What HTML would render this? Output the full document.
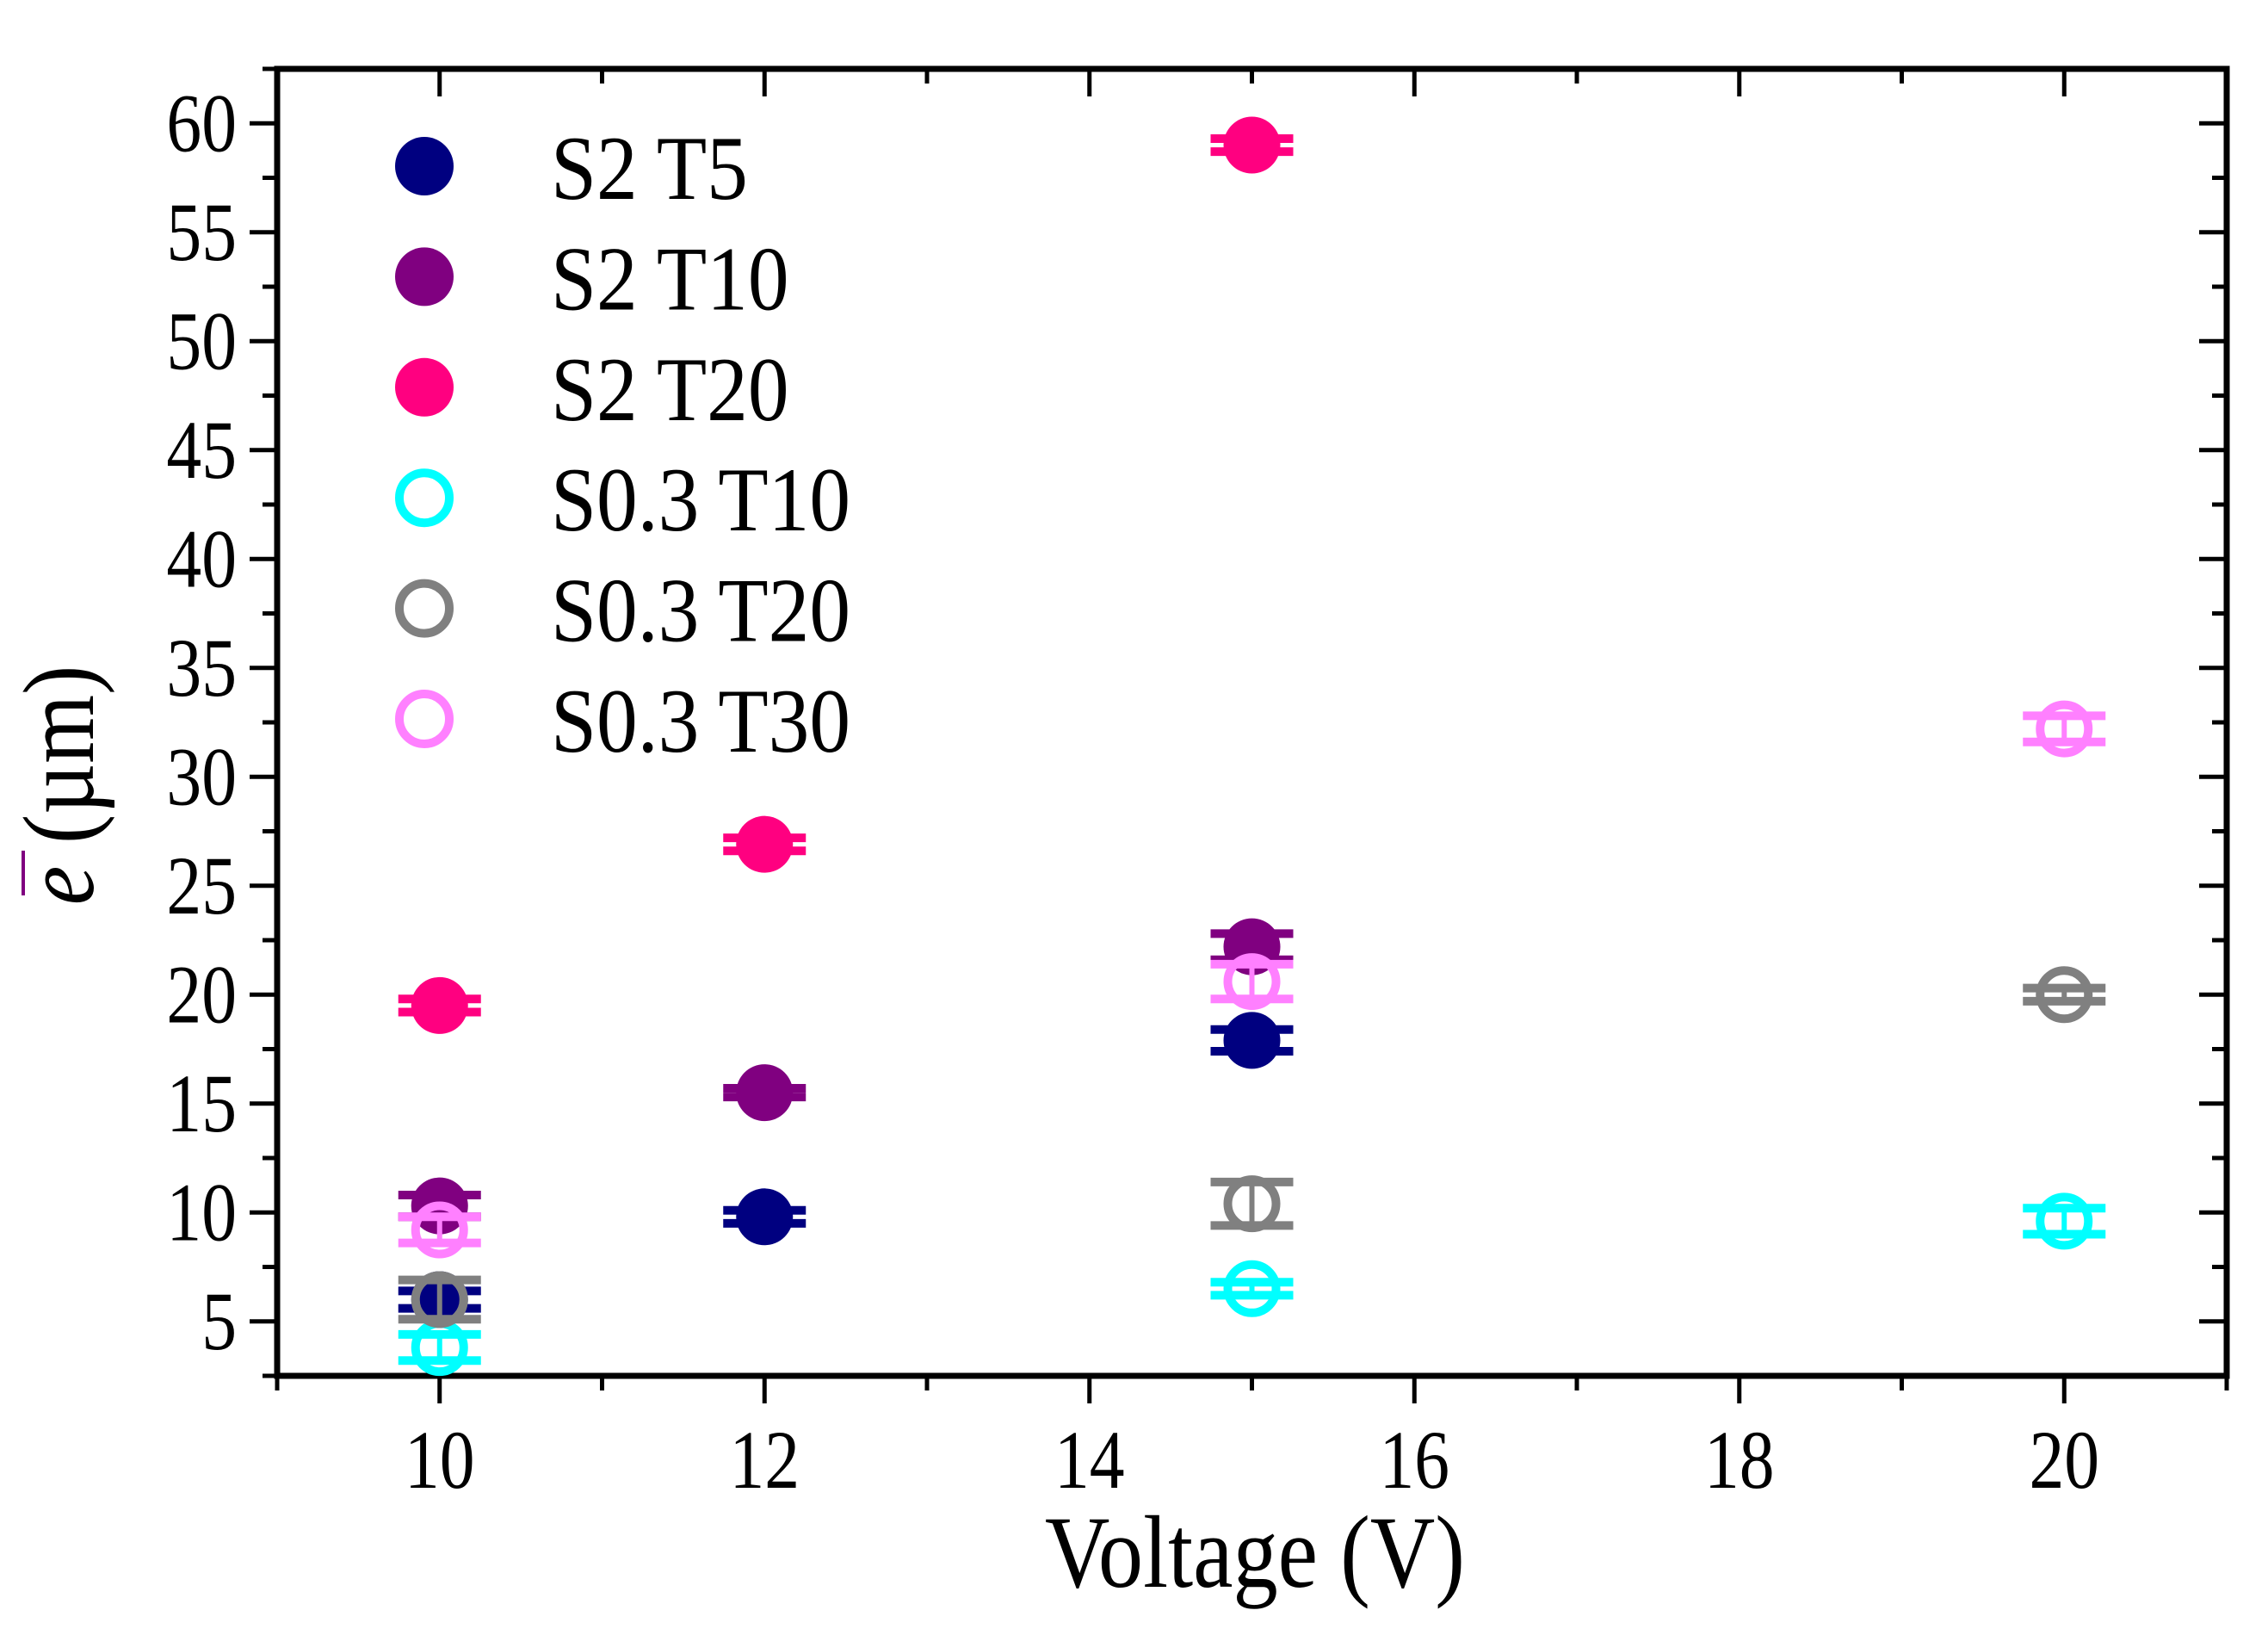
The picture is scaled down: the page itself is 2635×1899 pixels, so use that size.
<!DOCTYPE html>
<html><head><meta charset="utf-8"><style>
html,body{margin:0;padding:0;background:#fff;}
svg{display:block;}
text{font-family:"Liberation Serif",serif;fill:#000;}
</style></head><body>
<svg id="chart" width="2635" height="1899" viewBox="0 0 2635 1899" xmlns="http://www.w3.org/2000/svg">
<g id="axes"></g>
<g id="marks"></g>
<g id="legend"></g>
<text transform="translate(1458,1843) scale(0.87,1)" font-size="120" text-anchor="middle">Voltage (V)</text>
<g transform="translate(108,912) rotate(-90)">
<text transform="scale(0.87,1)" x="0" y="0" font-size="118" text-anchor="middle"><tspan font-style="italic">e</tspan> (µm)</text>
</g>
<line x1="27" y1="988" x2="27" y2="1040" stroke="#800080" stroke-width="4"/>
</svg>
<script>
const xTicks = [10, 12, 14, 16, 18, 20];
const yTicks = [5, 10, 15, 20, 25, 30, 35, 40, 45, 50, 55, 60];
const seriesNames = ["S2 T5", "S2 T10", "S2 T20", "S0.3 T10", "S0.3 T20", "S0.3 T30"];
const seriesColors = ["#000080", "#800080", "#FF0080", "#00FFFF", "#808080", "#FF80FF"];
const seriesFilled = [true, true, true, false, false, false];
const s2t5X = [10, 12, 15];       const s2t5Y = [6.0, 9.8, 17.9];    const s2t5E = [0.4, 0.3, 0.5];
const s2t10X = [10, 12, 15];      const s2t10Y = [10.3, 15.5, 22.2]; const s2t10E = [0.5, 0.2, 0.6];
const s2t20X = [10, 12, 15];      const s2t20Y = [19.5, 26.9, 59.0]; const s2t20E = [0.3, 0.3, 0.3];
const s03t10X = [10, 15, 20];     const s03t10Y = [3.8, 6.5, 9.6];   const s03t10E = [0.6, 0.3, 0.6];
const s03t20X = [10, 15, 20];     const s03t20Y = [6.0, 10.4, 20.0]; const s03t20E = [0.9, 1.0, 0.3];
const s03t30X = [10, 15, 20];     const s03t30Y = [9.2, 20.6, 32.2]; const s03t30E = [0.6, 0.8, 0.6];
const allX = [s2t5X, s2t10X, s2t20X, s03t10X, s03t20X, s03t30X];
const allY = [s2t5Y, s2t10Y, s2t20Y, s03t10Y, s03t20Y, s03t30Y];
const allE = [s2t5E, s2t10E, s2t20E, s03t10E, s03t20E, s03t30E];

const NS = "http://www.w3.org/2000/svg";
const L = 322, R = 2587, T = 80, B = 1598;
const xMin = 9, xMax = 21, yMin = 2.5, yMax = 62.5;
function sx(v){ return L + (v - xMin) / (xMax - xMin) * (R - L); }
function sy(v){ return B - (v - yMin) / (yMax - yMin) * (B - T); }
function mk(tag, attrs, parent){
  const e = document.createElementNS(NS, tag);
  for (const k in attrs) e.setAttribute(k, attrs[k]);
  parent.appendChild(e); return e;
}
const axes = document.getElementById('axes');
const frame = mk('rect', {x:L, y:T, width:R-L, height:B-T, fill:'none', stroke:'#000', 'stroke-width':7}, axes);


for (let v = 9; v <= 21; v += 1) {
  const major = v % 2 === 0;
  const len = major ? 32 : 17;
  const x = sx(v);
  const t1 = mk('line', {x1:x, y1:B, x2:x, y2:B+len, stroke:'#000', 'stroke-width':5}, axes);
  
  
  const t2 = mk('line', {x1:x, y1:T, x2:x, y2:T+len, stroke:'#000', 'stroke-width':5}, axes);
  
  
}
xTicks.forEach(v => {
  const t = mk('text', {transform:'translate(' + sx(v) + ',1728) scale(0.85,1)', 'font-size':96, 'text-anchor':'middle'}, axes);
  t.textContent = v;
  
  
});
for (let v = 2.5; v <= 62.5; v += 2.5) {
  const major = Math.abs(v % 5) < 1e-9;
  const len = major ? 32 : 17;
  const y = sy(v);
  const t1 = mk('line', {x1:L, y1:y, x2:L-len, y2:y, stroke:'#000', 'stroke-width':5}, axes);
  
  
  const t2 = mk('line', {x1:R, y1:y, x2:R-len, y2:y, stroke:'#000', 'stroke-width':5}, axes);
  
  
}
yTicks.forEach(v => {
  const t = mk('text', {transform:'translate(275,' + (sy(v)+32) + ') scale(0.85,1)', 'font-size':96, 'text-anchor':'end'}, axes);
  t.textContent = v;
  
  
});
const marks = document.getElementById('marks');
allX.forEach((xs, si) => {
  const c = seriesColors[si];
  xs.forEach((xv, i) => {
    const g = mk('g', {}, marks);
    
    
    const cx = sx(xv), cy = sy(allY[si][i]);
    const yt = sy(allY[si][i] + allE[si][i]), yb = sy(allY[si][i] - allE[si][i]);
    if (seriesFilled[si]) mk('circle', {cx:cx, cy:cy, r:33, fill:c}, g);
    else mk('circle', {cx:cx, cy:cy, r:28, fill:'none', stroke:c, 'stroke-width':10}, g);
    mk('line', {x1:cx, y1:yt, x2:cx, y2:yb, stroke:c, 'stroke-width':6}, g);
    mk('line', {x1:cx-48, y1:yt, x2:cx+48, y2:yt, stroke:c, 'stroke-width':10}, g);
    mk('line', {x1:cx-48, y1:yb, x2:cx+48, y2:yb, stroke:c, 'stroke-width':10}, g);
  });
});
const legend = document.getElementById('legend');
seriesNames.forEach((n, i) => {
  const y = 193 + i * 128.4;
  const g = mk('g', {}, legend);
  
  
  const c = seriesColors[i];
  if (seriesFilled[i]) mk('circle', {cx:493, cy:y, r:34, fill:c}, g);
  else mk('circle', {cx:493, cy:y, r:29, fill:'none', stroke:c, 'stroke-width':10}, g);
  const t = mk('text', {transform:'translate(640,' + (y+38) + ') scale(0.9,1)', 'font-size':106}, g);
  t.textContent = n;
});
</script>
</body></html>
